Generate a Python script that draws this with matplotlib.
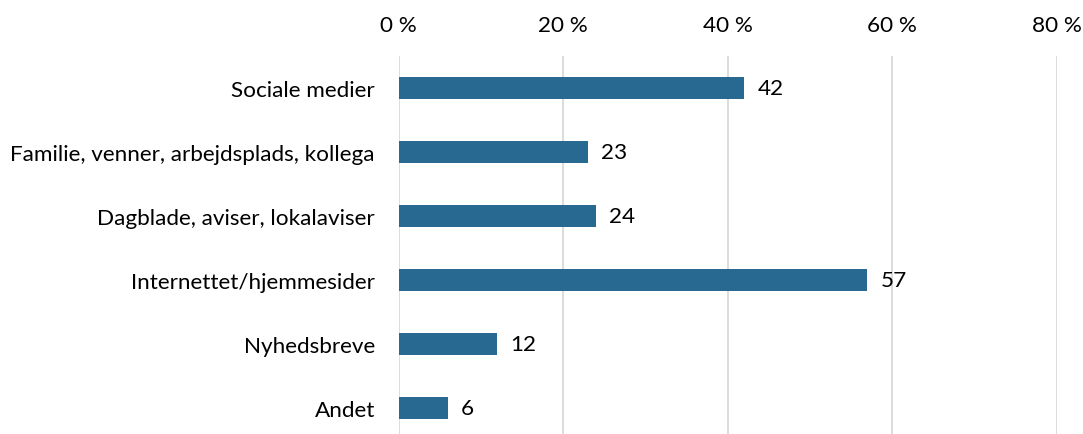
import matplotlib.pyplot as plt
from matplotlib.ticker import FuncFormatter

categories = [
    "Sociale medier",
    "Familie, venner, arbejdsplads, kollega",
    "Dagblade, aviser, lokalaviser",
    "Internettet/hjemmesider",
    "Nyhedsbreve",
    "Andet",
]
values = [42, 23, 24, 57, 12, 6]
x_ticks = [0, 20, 40, 60, 80]

BAR_COLOR = "#276991"
GRID_COLOR = "#d9d9d9"
FS = 16.2

plt.rcParams["font.family"] = ["Lato", "DejaVu Sans"]

W, H = 1083, 435
fig = plt.figure(figsize=(W / 100, H / 100), dpi=100)
left_px, right_px, top_px, bottom_px = 398.5, 1056.7, 57, 441
ax = fig.add_axes([left_px / W, 1 - bottom_px / H,
                   (right_px - left_px) / W, (bottom_px - top_px) / H])

pos = list(range(len(categories)))
ax.barh(pos, values, height=0.344, color=BAR_COLOR, zorder=3)
for p, v in zip(pos, values):
    ax.annotate(f"{v}", xy=(v, p), xytext=(9.5, 0), textcoords="offset points",
                va="center", ha="left", fontsize=FS, color="#000000")

ax.set_xlim(0, 80)
ax.set_ylim(len(categories) - 0.5, -0.5)
ax.set_xticks(x_ticks)
ax.xaxis.set_major_formatter(FuncFormatter(lambda x, _: f"{int(x)} %"))
ax.xaxis.tick_top()
ax.set_yticks(pos)
ax.set_yticklabels(categories)
ax.tick_params(axis="x", length=0, pad=15, labelsize=FS)
ax.tick_params(axis="y", length=0, pad=17, labelsize=FS)

ax.grid(axis="x", color=GRID_COLOR, linewidth=1.3, zorder=0)
for s in ax.spines.values():
    s.set_visible(False)

fig.savefig("out.png", dpi=100)
